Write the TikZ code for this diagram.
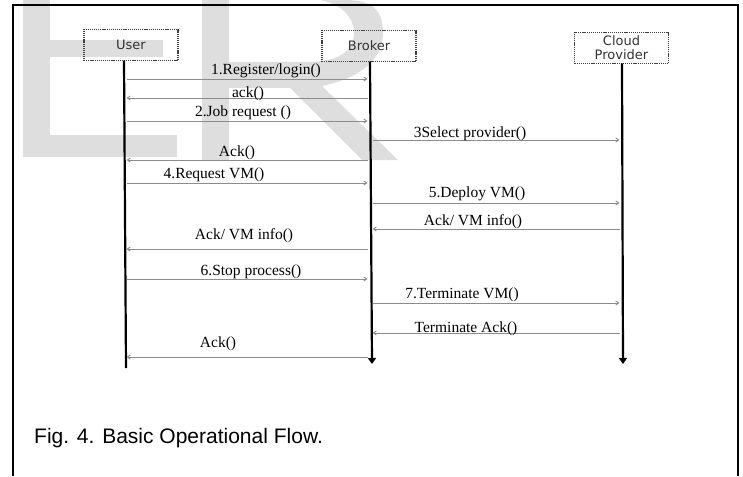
\documentclass[tikz,border=0pt]{standalone}
\usepackage{fontspec}
\setmainfont{Liberation Serif}
\newfontfamily\capfont{Liberation Sans}
\newfontfamily\boxfont{DejaVu Sans}
\usetikzlibrary{arrows.meta}
\begin{document}
\begin{tikzpicture}[x=1pt,y=-1pt,
  wm/.style={fill=black!13},
  actor/.style={draw=black!75, line width=1.4pt, dash pattern=on 1.2pt off 0.9pt,
    minimum width=94pt, minimum height=31pt, inner sep=0pt,
    font=\boxfont\fontsize{13}{14}\selectfont, text=black!80, align=center},
  life/.style={line width=2.2pt, black},
  lifearrow/.style={life, -{Triangle[length=6pt,width=8pt]}},
  msg/.style={draw=black!45, line width=0.9pt, -{Straight Barb[length=3pt,width=4pt]},
    shorten <=2.5pt, shorten >=2.5pt},
  lbl/.style={font=\fontsize{15.5}{17}\selectfont, text=black, inner sep=0pt, anchor=base},
]
\useasboundingbox (0,0) rectangle (743,476);
% watermark
\fill[wm] (23,0) rectangle (50,157);
\fill[wm] (50,40) rectangle (163,57);
\fill[wm] (50,135) rectangle (177,157);
\fill[wm, even odd rule]
  (202,0) -- (202,160) -- (229,160) -- (229,88) -- (290,88) -- (362,160) -- (398,160)
  -- (322,86) .. controls (362,78) and (383,58) .. (383,33)
  .. controls (383,8) and (370,0) .. (345,0) -- cycle
  (229,0) -- (320,0) .. controls (342,4) and (354,18) .. (354,33)
  .. controls (354,52) and (338,62) .. (305,62) -- (229,62) -- cycle;
% frame
\draw[line width=1.8pt] (13,476) -- (13,5) -- (738,5) -- (738,476);
% actors
\node[actor] (user) at (131,45) {User};
\node[actor] (broker) at (369,46) {Broker};
\node[actor] (cloud) at (621.5,48) {Cloud\\Provider};
% lifelines
\coordinate (uTop) at (124,60.5);
\coordinate (uBot) at (126,368);
\coordinate (bTop) at (370,61.5);
\coordinate (bBot) at (372,364);
\coordinate (cTop) at (622,63.5);
\coordinate (cBot) at (623,364);
\draw[life] (uTop) -- (uBot);
\draw[lifearrow] (bTop) -- (bBot);
\draw[lifearrow] (cTop) -- (cBot);
% message rows
\foreach \n/\y in {1/79,2/98,3/121,4/140,5/160,6/183,7/203,8/229,9/249,10/279,11/303,12/333,13/357}
  \coordinate (r\n) at (0,\y);
\draw[msg] (uTop |- r1) -- (bTop |- r1);
\draw[msg] (bTop |- r2) -- (uTop |- r2);
\draw[msg] (uTop |- r3) -- (bTop |- r3);
\draw[msg] (bTop |- r4) -- (cTop |- r4);
\draw[msg] (bTop |- r5) -- (uTop |- r5);
\draw[msg] (uTop |- r6) -- (bTop |- r6);
\draw[msg] (bTop |- r7) -- (cTop |- r7);
\draw[msg] (cTop |- r8) -- (bTop |- r8);
\draw[msg] (bTop |- r9) -- (uTop |- r9);
\draw[msg] (uTop |- r10) -- (bTop |- r10);
\draw[msg] (bTop |- r11) -- (cTop |- r11);
\draw[msg] (cTop |- r12) -- (bTop |- r12);
\draw[msg] (bTop |- r13) -- (uTop |- r13);
% labels
\node[lbl] (l1) at (266,75) {1.Register/login()};
\node[lbl] (l2) at (248,98) {ack()};
\node[lbl] (l3) at (243,117) {2.Job request ()};
\node[lbl] (l4) at (470,137) {3Select provider()};
\node[lbl] (l5) at (237,156) {Ack()};
\node[lbl] (l6) at (214,178) {4.Request VM()};
\node[lbl] (l7) at (477,197) {5.Deploy VM()};
\node[lbl] (l8) at (473,225) {Ack/ VM info()};
\node[lbl] (l9) at (244,239) {Ack/ VM info()};
\node[lbl] (l10) at (251,275) {6.Stop process()};
\node[lbl] (l11) at (462,298) {7.Terminate VM()};
\node[lbl] (l12) at (466,332) {Terminate Ack()};
\node[lbl] (l13) at (218,347) {Ack()};
% caption
\node[font=\capfont\fontsize{21}{24}\selectfont, anchor=base west, inner sep=0pt] (cap) at (34,443) {Fig. 4. Basic Operational Flow.};
\end{tikzpicture}
\end{document}
